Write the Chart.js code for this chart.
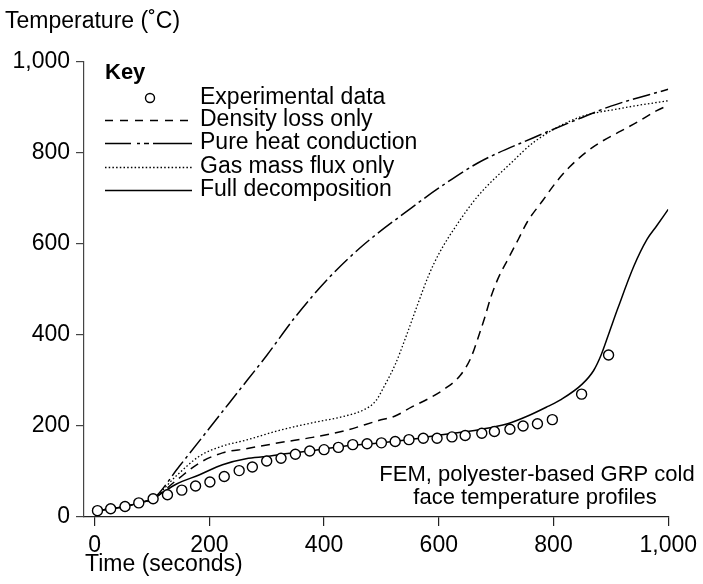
<!DOCTYPE html>
<html>
<head>
<meta charset="utf-8">
<script src="https://cdn.jsdelivr.net/npm/chart.js@4.4.1/dist/chart.umd.min.js"></script>
<style>
  html, body { margin: 0; padding: 0; background: #fff; }
</style>
</head>
<body>
<canvas id="myChart" width="703" height="584"></canvas>
<script>
// experimental cold face temperatures (circles)
const expTime = [5, 28, 53, 77, 102, 127, 152, 176, 201, 226, 252, 275, 300, 325, 350, 375, 400, 425, 450, 475, 500, 524, 548, 573, 597, 623, 646, 675, 697, 724, 747, 772, 798, 849, 896];
const expTemp = [14, 18, 23, 31, 40, 49, 59, 68, 77, 89, 102, 110, 123, 129, 138, 145, 148, 153, 159, 161, 163, 166, 170, 173, 173, 176, 179, 184, 188, 193, 200, 205, 214, 270, 356];

// density loss only (dashed)
const densTime = [5, 28, 53, 77, 102, 142, 183, 223, 264, 321, 380, 437, 495, 524, 553, 582, 611, 638, 656, 668, 680, 691, 704, 722, 739, 755, 781, 804, 827, 856, 885, 917, 949, 980, 1000];
const densTemp = [14, 18, 23, 31, 40, 80, 119, 141, 150, 163, 175, 190, 212, 222, 242, 260, 282, 312, 350, 392, 438, 484, 526, 570, 611, 650, 695, 735, 768, 801, 826, 848, 870, 893, 905];

// pure heat conduction (dash-dot)
const condTime = [5, 28, 53, 77, 102, 148, 200, 250, 300, 350, 408, 466, 553, 599, 668, 764, 848, 900, 1000];
const condTemp = [14, 18, 23, 31, 40, 112, 195, 275, 355, 440, 525, 595, 680, 722, 778, 833, 877, 903, 940];

// gas mass flux only (dotted)
const gasTime = [5, 28, 53, 77, 102, 142, 183, 223, 264, 321, 379, 437, 470, 490, 506, 524, 541, 564, 582, 600, 634, 668, 726, 767, 842, 917, 1000];
const gasTemp = [14, 18, 23, 31, 40, 90, 134, 156, 169, 190, 207, 222, 236, 255, 290, 335, 390, 470, 530, 578, 647, 705, 778, 825, 877, 898, 915];

// full decomposition (solid)
const fullTime = [5, 28, 53, 77, 102, 120, 142, 183, 223, 264, 300, 340, 380, 437, 500, 560, 600, 670, 720, 755, 790, 813, 850, 870, 883, 897, 912, 940, 963, 980, 1000];
const fullTemp = [14, 18, 23, 31, 40, 55, 72, 93, 115, 128, 133, 140, 146, 156, 163, 172, 180, 192, 205, 222, 243, 258, 292, 322, 356, 405, 458, 551, 610, 640, 676];

const xTicks = [0, 200, 400, 600, 800, 1000];
const yTicks = [0, 200, 400, 600, 800, 1000];

const seriesNames = ["Experimental data", "Density loss only", "Pure heat conduction", "Gas mass flux only", "Full decomposition"];
const noteLines = ["FEM, polyester-based GRP cold", "face temperature profiles"];

const FONT = '"Liberation Sans", Arial, Helvetica, sans-serif';

function pts(xs, ys){
    return xs.map((x, i) => ({x: x, y: ys[i]}));
}

// key, titles and the note are drawn straight onto the canvas
const extrasPlugin = {
    id: 'extras',
    afterDraw(chart){
        const ctx = chart.ctx;
        ctx.save();
        ctx.fillStyle = '#000';
        ctx.font = '23px ' + FONT;
        ctx.textBaseline = 'middle';
        ctx.textAlign = 'left';
        ctx.fillText('Temperature (\u02DAC)', 5, 22);
        ctx.fillText('Time (seconds)', 85, 565);

        ctx.font = '22px ' + FONT;
        ctx.textAlign = 'center';
        ctx.fillText(noteLines[0], 537, 475);
        ctx.fillText(noteLines[1], 535, 498);

        // key
        ctx.textAlign = 'left';
        ctx.font = 'bold 22px ' + FONT;
        ctx.fillText('Key', 105, 73);
        ctx.font = '23px ' + FONT;
        const rowY = [98, 120, 143, 167, 190];
        chart.data.datasets.forEach((ds, i) => {
            const y = rowY[i];
            ctx.save();
            ctx.strokeStyle = '#000';
            if (ds.showLine === false) {
                ctx.lineWidth = 1.4;
                ctx.fillStyle = '#fff';
                ctx.beginPath();
                ctx.arc(150, y, 4.5, 0, Math.PI * 2);
                ctx.fill();
                ctx.stroke();
            } else {
                ctx.lineWidth = ds.borderWidth;
                ctx.setLineDash(ds.keyDash || ds.borderDash || []);
                ctx.beginPath();
                ctx.moveTo(105, y + 0.5);
                ctx.lineTo(192, y + 0.5);
                ctx.stroke();
            }
            ctx.restore();
            ctx.fillText(ds.label, 200, y);
        });
        ctx.restore();
    }
};

const lineBase = {
    showLine: true,
    borderColor: '#000',
    backgroundColor: '#000',
    borderWidth: 1.5,
    pointRadius: 0,
    cubicInterpolationMode: 'monotone',
    fill: false
};

const ctx = document.getElementById('myChart').getContext('2d');
window.myChart = new Chart(ctx, {
    type: 'scatter',
    data: {
        datasets: [
            {
                label: seriesNames[0],
                data: pts(expTime, expTemp),
                showLine: false,
                pointStyle: 'circle',
                pointRadius: 5,
                pointBorderWidth: 1.4,
                pointBorderColor: '#000',
                pointBackgroundColor: '#fff'
            },
            Object.assign({}, lineBase, {
                label: seriesNames[1],
                data: pts(densTime, densTemp),
                borderDash: [9, 6],
                keyDash: [8, 7]
            }),
            Object.assign({}, lineBase, {
                label: seriesNames[2],
                data: pts(condTime, condTemp),
                borderDash: [18, 4, 3, 4],
                keyDash: [26, 6, 3, 4, 5, 4, 40]
            }),
            Object.assign({}, lineBase, {
                label: seriesNames[3],
                data: pts(gasTime, gasTemp),
                borderWidth: 1.3,
                borderDash: [1.5, 2.2]
            }),
            Object.assign({}, lineBase, {
                label: seriesNames[4],
                data: pts(fullTime, fullTemp)
            })
        ]
    },
    options: {
        responsive: false,
        animation: false,
        layout: { padding: { top: 62, right: 32, left: 0, bottom: 0 } },
        plugins: {
            legend: { display: false },
            tooltip: { enabled: false }
        },
        scales: {
            x: {
                type: 'linear',
                min: -18.5,
                max: 1000,
                afterBuildTicks: (scale) => { scale.ticks = xTicks.map(v => ({value: v})); },
                afterFit: (scale) => { scale.height = 67; },
                border: { display: true, color: '#222', width: 1.2 },
                grid: { drawOnChartArea: false, drawTicks: true, tickLength: 9, color: '#222', lineWidth: 1.2 },
                ticks: { color: '#000', padding: 6, maxRotation: 0, font: { family: FONT, size: 23 } }
            },
            y: {
                type: 'linear',
                min: 0,
                max: 1000,
                afterBuildTicks: (scale) => { scale.ticks = yTicks.map(v => ({value: v})); },
                afterFit: (scale) => { scale.width = 84; },
                border: { display: true, color: '#444', width: 1.2 },
                grid: { drawOnChartArea: false, drawTicks: true, tickLength: 8, color: '#444', lineWidth: 1.2 },
                ticks: { color: '#000', padding: 6, font: { family: FONT, size: 23 } }
            }
        }
    },
    plugins: [extrasPlugin]
});
</script>
</body>
</html>
